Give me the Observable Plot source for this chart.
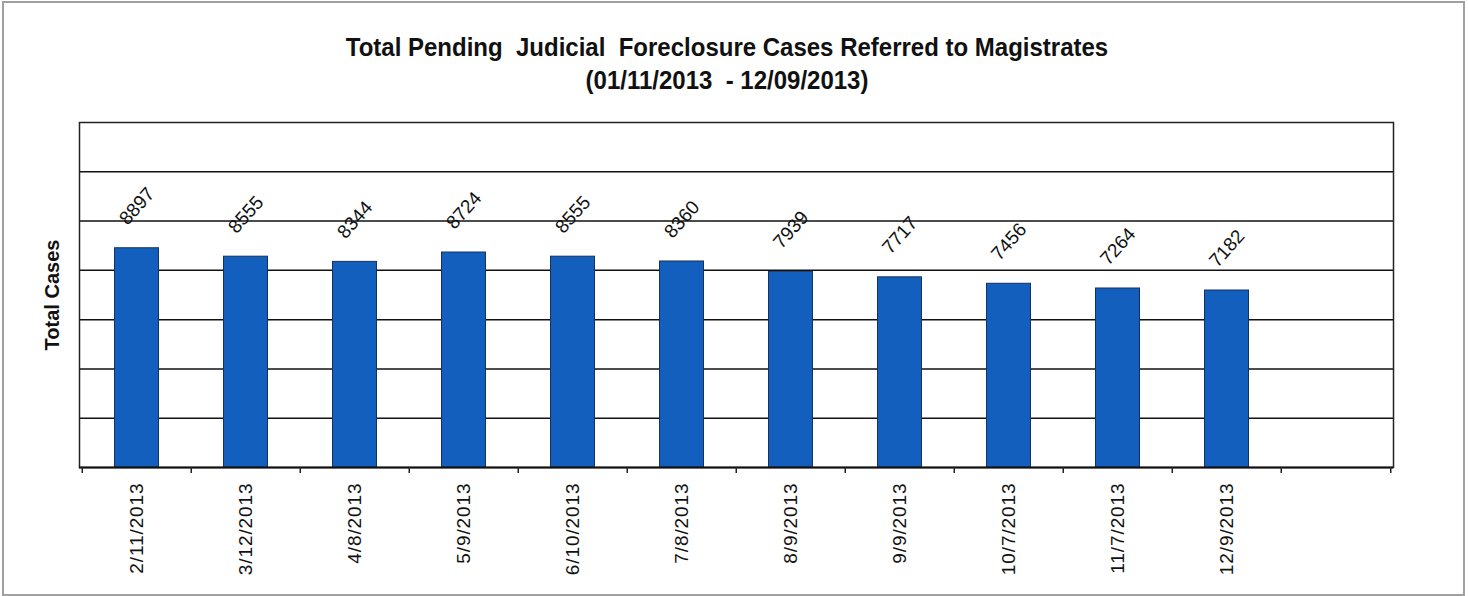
<!DOCTYPE html>
<html>
<head>
<meta charset="utf-8">
<script src="https://cdn.jsdelivr.net/npm/d3@7"></script>
<script src="https://cdn.jsdelivr.net/npm/@observablehq/plot@0.6"></script>
<style>
  html, body { margin: 0; padding: 0; background: #fff; }
  #wrap { position: relative; width: 1468px; height: 596px; overflow: hidden;
          font-family: "Liberation Sans", Arial, sans-serif; }
  #border { position: absolute; left: 2px; top: 1px; width: 1459px; height: 591px;
            border: 2px solid #a0a0a0; box-sizing: content-box; pointer-events: none; }
  .title { position: absolute; left: 0; width: 1454px; text-align: center;
           font-weight: bold; font-size: 24px; line-height: 24px; color: #111;
           transform: scaleY(1.1); }
  #chart { position: absolute; left: 0; top: 0; }
  g[aria-label="x-axis tick label"] text { letter-spacing: 0.9px; }
</style>
</head>
<body>
<div id="wrap">
  <div id="chart"></div>
  <div class="title" style="top:35px">Total Pending&nbsp; Judicial&nbsp; Foreclosure Cases Referred to Magistrates</div>
  <div class="title" style="top:68px">(01/11/2013&nbsp; - 12/09/2013)</div>
  <div id="border"></div>
</div>
<script>
// ---- data ----
const dates = ["2/11/2013","3/12/2013","4/8/2013","5/9/2013","6/10/2013","7/8/2013",
               "8/9/2013","9/9/2013","10/7/2013","11/7/2013","12/9/2013"];
const cases = [8897, 8555, 8344, 8724, 8555, 8360, 7939, 7717, 7456, 7264, 7182];
const emptySlot = " ";
const yGrid = [2000, 4000, 6000, 8000, 10000, 12000];
const yMax = 14000;
const yLabel = "Total Cases";

// ---- layout ----
const W = 1468, H = 596;
const mL = 79, mR = 75, mT = 122, mB = 129;
const slots = [...dates, emptySlot];
const step = (W - mL - mR) / slots.length;
const plotH = H - mT - mB;
const data = dates.map((d, i) => ({date: d, cases: cases[i]}));

const chart = Plot.plot({
  width: W,
  height: H,
  marginLeft: mL,
  marginRight: mR,
  marginTop: mT,
  marginBottom: mB,
  style: {fontFamily: '"Liberation Sans", Arial, sans-serif', background: "transparent", color: "#111"},
  x: {domain: slots, padding: 0, axis: null},
  y: {domain: [0, yMax], axis: null},
  marks: [
    Plot.ruleY(yGrid, {stroke: "#111", strokeWidth: 1.5}),
    Plot.frame({stroke: "#222", strokeWidth: 1.5}),
    Plot.barY(data, {x: "date", y: "cases", fill: "#135fbd", stroke: "#15325e", strokeWidth: 1,
                     insetLeft: 32.5, insetRight: 32.5}),
    Plot.ruleY([0], {stroke: "#111", strokeWidth: 2}),
    // boundary ticks below the axis
    Plot.ruleX(slots, {x: d => d, dx: -step / 2, insetTop: plotH, insetBottom: -6, stroke: "#222", strokeWidth: 1.5}),
    Plot.ruleX([slots[slots.length - 1]], {x: d => d, dx: step / 2, insetTop: plotH, insetBottom: -6, stroke: "#222", strokeWidth: 1.5}),
    Plot.axisX(dates, {tickSize: 0, tickPadding: 15, tickRotate: -90, fontSize: 19, label: null, fill: "#111"}),
    Plot.text(data, {x: "date", y: "cases", text: d => String(d.cases), dy: -42, rotate: -48,
                     fontSize: 19, fill: "#111"}),
    Plot.text([yLabel], {frameAnchor: "left", dx: -27, rotate: -90, textAnchor: "middle",
                         fontWeight: "bold", fontSize: 20, fill: "#111"})
  ]
});
document.getElementById("chart").appendChild(chart);
</script>
</body>
</html>
